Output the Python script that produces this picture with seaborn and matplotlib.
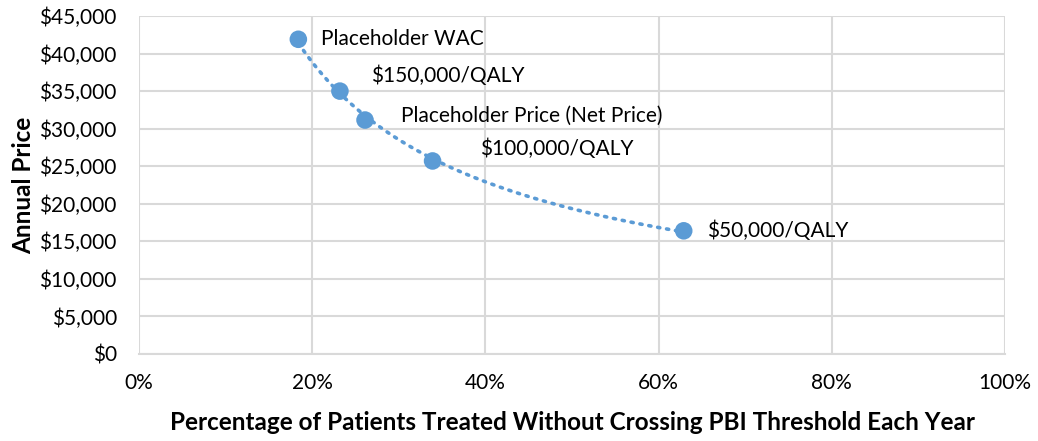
import numpy as np
import pandas as pd
import seaborn as sns
from matplotlib import pyplot as plt
from matplotlib.ticker import FuncFormatter, MultipleLocator

# values
pct_treated = [0.184, 0.232, 0.261, 0.339, 0.629]
annual_price = [41900, 35000, 31150, 25700, 16400]
point_labels = ['Placeholder WAC', '$150,000/QALY', 'Placeholder Price (Net Price)',
                '$100,000/QALY', '$50,000/QALY']
label_offsets = [(23, 0), (31, 15), (36, 4), (47, 12), (23, 0)]  # pixels

blue = '#5B9BD5'
grid = '#D9D9D9'

sns.set_style('whitegrid')
plt.rcParams['font.family'] = ['Lato', 'DejaVu Sans']

df = pd.DataFrame({'pct': pct_treated, 'price': annual_price, 'label': point_labels})

fig = plt.figure(figsize=(10.38, 4.41), dpi=100)
ax = fig.add_axes([139 / 1038, 1 - 354 / 441, (1005 - 139) / 1038, (354 - 16) / 441])

# power trendline (Excel style), fitted in log space
b, log_a = np.polyfit(np.log(df['pct']), np.log(df['price']), 1)
xs = np.linspace(df['pct'].min(), df['pct'].max(), 200)
ax.plot(xs, np.exp(log_a) * xs ** b, color=blue, lw=2.6,
        linestyle=(0, (0.6, 1.9)), dash_capstyle='round', zorder=2)

sns.scatterplot(data=df, x='pct', y='price', ax=ax, color=blue, s=160,
                edgecolor='none', zorder=3)

for (x, y, lab), off in zip(df[['pct', 'price', 'label']].values, label_offsets):
    ax.annotate(lab, (x, y), xytext=off, textcoords='offset pixels',
                ha='left', va='center', fontsize=15, color='#000000')

ax.set_xlim(0, 1)
ax.set_ylim(0, 45000)
ax.xaxis.set_major_locator(MultipleLocator(0.2))
ax.yaxis.set_major_locator(MultipleLocator(5000))
ax.xaxis.set_major_formatter(FuncFormatter(lambda v, p: f'{v:.0%}'))
ax.yaxis.set_major_formatter(FuncFormatter(lambda v, p: f'${v:,.0f}'))
ax.tick_params(axis='both', labelsize=15, length=0, colors='#000000')
ax.tick_params(axis='x', pad=14)
ax.tick_params(axis='y', pad=16)

ax.grid(True, color=grid, lw=1.5)
for side in ['top', 'right', 'left']:
    ax.spines[side].set_visible(False)
ax.spines['bottom'].set_color(grid)
ax.spines['bottom'].set_linewidth(1.5)

ax.set_xlabel('Percentage of Patients Treated Without Crossing PBI Threshold Each Year',
              fontsize=17.5, fontweight='bold', labelpad=13, color='#000000')
ax.set_ylabel('Annual Price', fontsize=17.5, fontweight='bold', labelpad=3, color='#000000')

fig.savefig('out.png', dpi=100)
